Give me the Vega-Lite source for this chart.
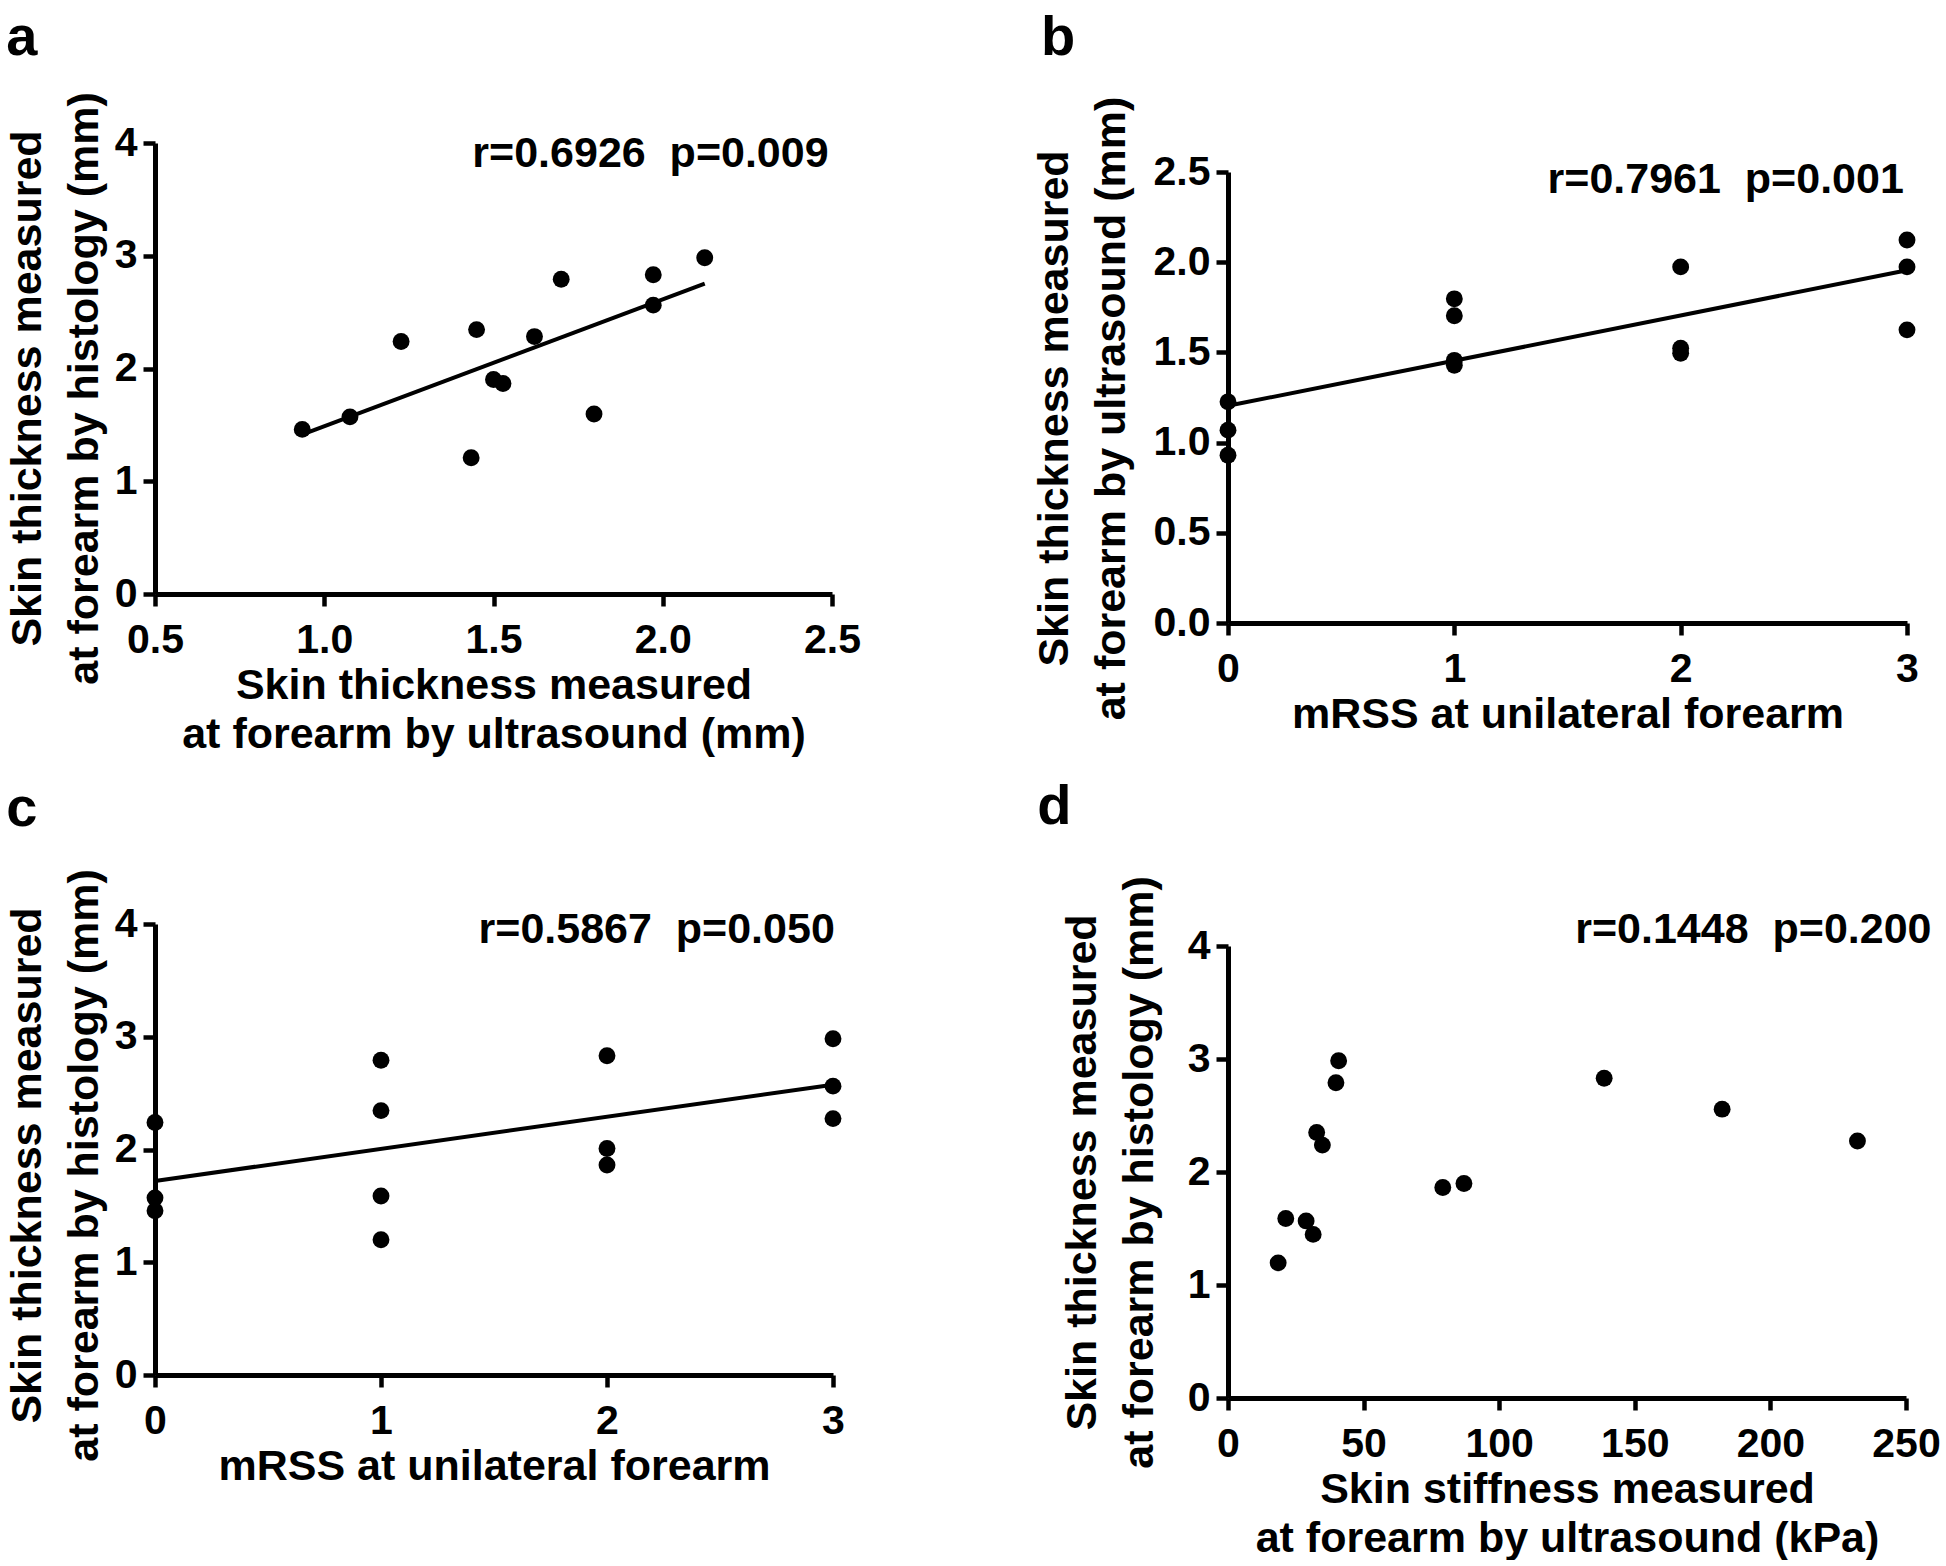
{
  "$schema": "https://vega.github.io/schema/vega-lite/v6.json",
  "background": "white",
  "padding": {"left": 6, "top": 9, "right": 5, "bottom": 0},
  "spacing": 22,
  "vconcat": [
    {
      "concat": [
        {
          "title": {"text": "a", "offset": 25},
          "width": 677,
          "height": 451,
          "encoding": {
            "x": {"field": "x", "type": "quantitative", "scale": {"domain": [0.5, 2.5], "nice": false, "zero": false},
                  "axis": {"values": [0.5, 1, 1.5, 2, 2.5], "format": ".1f", "title": ["Skin thickness measured", "at forearm by ultrasound (mm)"]}},
            "y": {"field": "y", "type": "quantitative", "scale": {"domain": [0, 4], "nice": false},
                  "axis": {"values": [0, 1, 2, 3, 4], "format": "d", "titleY": 245, "title": ["Skin thickness measured", "at forearm by histology (mm)"]}}
          },
          "layer": [
            {
              "data": {"values": [
                {"x": 0.935, "y": 1.46}, {"x": 1.076, "y": 1.571}, {"x": 1.227, "y": 2.239}, {"x": 1.434, "y": 1.208},
                {"x": 1.45, "y": 2.345}, {"x": 1.5, "y": 1.903}, {"x": 1.528, "y": 1.867}, {"x": 1.621, "y": 2.283},
                {"x": 1.7, "y": 2.792}, {"x": 1.797, "y": 1.597}, {"x": 1.972, "y": 2.832}, {"x": 1.972, "y": 2.562},
                {"x": 2.124, "y": 2.982}
              ]},
              "mark": {"type": "circle", "size": 285, "opacity": 1, "color": "black"}
            },
            {
              "data": {"values": [{"x": 0.944, "y": 1.425}, {"x": 2.124, "y": 2.752}]},
              "mark": {"type": "line", "color": "black", "strokeWidth": 4}
            },
            {
              "data": {"values": [{"x": 2.49, "y": 3.9, "label": "r=0.6926\u00a0\u00a0p=0.009"}]},
              "mark": {"type": "text", "align": "right", "baseline": "middle", "fontSize": 43, "fontWeight": "bold", "color": "black", "font": "Liberation Sans"},
              "encoding": {"text": {"field": "label"}}
            }
          ]
        },
        {
          "title": {"text": "b", "offset": 29, "dx": 8},
          "width": 679,
          "height": 480,
          "encoding": {
            "x": {"field": "x", "type": "quantitative", "scale": {"domain": [0, 3], "nice": false, "zero": false},
                  "axis": {"values": [0, 1, 2, 3], "format": "d", "title": "mRSS at unilateral forearm"}},
            "y": {"field": "y", "type": "quantitative", "scale": {"domain": [0, 2.5], "nice": false, "range": [480, 29]},
                  "axis": {"values": [0, 0.5, 1, 1.5, 2, 2.5], "format": ".1f", "titlePadding": 20, "titleY": 265, "title": ["Skin thickness measured", "at forearm by ultrasound (mm)"]}}
          },
          "layer": [
            {
              "data": {"values": [
                {"x": 0, "y": 1.226}, {"x": 0, "y": 1.069}, {"x": 0, "y": 0.93},
                {"x": 1, "y": 1.797}, {"x": 1, "y": 1.703}, {"x": 1, "y": 1.456}, {"x": 1, "y": 1.429},
                {"x": 2, "y": 1.974}, {"x": 2, "y": 1.523}, {"x": 2, "y": 1.495},
                {"x": 3, "y": 2.123}, {"x": 3, "y": 1.974}, {"x": 3, "y": 1.625}
              ]},
              "mark": {"type": "circle", "size": 285, "opacity": 1, "color": "black"}
            },
            {
              "data": {"values": [{"x": 0, "y": 1.204}, {"x": 3, "y": 1.955}]},
              "mark": {"type": "line", "color": "black", "strokeWidth": 4}
            },
            {
              "data": {"values": [{"x": 2.986, "y": 2.458, "label": "r=0.7961\u00a0\u00a0p=0.001"}]},
              "mark": {"type": "text", "align": "right", "baseline": "middle", "fontSize": 43, "fontWeight": "bold", "color": "black", "font": "Liberation Sans"},
              "encoding": {"text": {"field": "label"}}
            }
          ]
        }
      ],
      "columns": 2,
      "align": "none",
      "spacing": 172
    },
    {
      "concat": [
        {
          "title": {"text": "c", "offset": 31},
          "width": 678,
          "height": 451,
          "encoding": {
            "x": {"field": "x", "type": "quantitative", "scale": {"domain": [0, 3], "nice": false, "zero": false},
                  "axis": {"values": [0, 1, 2, 3], "format": "d", "title": "mRSS at unilateral forearm"}},
            "y": {"field": "y", "type": "quantitative", "scale": {"domain": [0, 4], "nice": false},
                  "axis": {"values": [0, 1, 2, 3, 4], "format": "d", "titleY": 241, "title": ["Skin thickness measured", "at forearm by histology (mm)"]}}
          },
          "layer": [
            {
              "data": {"values": [
                {"x": 0, "y": 2.239}, {"x": 0, "y": 1.571}, {"x": 0, "y": 1.456},
                {"x": 1, "y": 2.792}, {"x": 1, "y": 2.345}, {"x": 1, "y": 1.588}, {"x": 1, "y": 1.199},
                {"x": 2, "y": 2.832}, {"x": 2, "y": 2.009}, {"x": 2, "y": 1.863},
                {"x": 3, "y": 2.982}, {"x": 3, "y": 2.562}, {"x": 3, "y": 2.274}
              ]},
              "mark": {"type": "circle", "size": 285, "opacity": 1, "color": "black"}
            },
            {
              "data": {"values": [{"x": 0, "y": 1.721}, {"x": 3, "y": 2.575}]},
              "mark": {"type": "line", "color": "black", "strokeWidth": 4}
            },
            {
              "data": {"values": [{"x": 3.008, "y": 3.947, "label": "r=0.5867\u00a0\u00a0p=0.050"}]},
              "mark": {"type": "text", "align": "right", "baseline": "middle", "fontSize": 43, "fontWeight": "bold", "color": "black", "font": "Liberation Sans"},
              "encoding": {"text": {"field": "label"}}
            }
          ]
        },
        {
          "title": {"text": "d", "offset": 40, "dx": -24},
          "width": 678,
          "height": 474,
          "encoding": {
            "x": {"field": "x", "type": "quantitative", "scale": {"domain": [0, 250], "nice": false, "zero": false},
                  "axis": {"values": [0, 50, 100, 150, 200, 250], "format": "d", "title": ["Skin stiffness measured", "at forearm by ultrasound (kPa)"]}},
            "y": {"field": "y", "type": "quantitative", "scale": {"domain": [0, 4], "nice": false, "range": [474, 22]},
                  "axis": {"values": [0, 1, 2, 3, 4], "format": "d", "titlePadding": 26, "title": ["Skin thickness measured", "at forearm by histology (mm)"]}}
          },
          "layer": [
            {
              "data": {"values": [
                {"x": 18.5, "y": 1.196}, {"x": 21.3, "y": 1.589}, {"x": 28.8, "y": 1.567}, {"x": 31.4, "y": 1.448},
                {"x": 32.7, "y": 2.349}, {"x": 34.8, "y": 2.238}, {"x": 39.8, "y": 2.79}, {"x": 40.8, "y": 2.985},
                {"x": 79.2, "y": 1.863}, {"x": 87.0, "y": 1.898}, {"x": 138.7, "y": 2.83}, {"x": 182.2, "y": 2.556},
                {"x": 232.1, "y": 2.274}
              ]},
              "mark": {"type": "circle", "size": 285, "opacity": 1, "color": "black"}
            },
            {
              "data": {"values": [{"x": 259.4, "y": 4.14, "label": "r=0.1448\u00a0\u00a0p=0.200"}]},
              "mark": {"type": "text", "align": "right", "baseline": "middle", "fontSize": 43, "fontWeight": "bold", "color": "black", "font": "Liberation Sans"},
              "encoding": {"text": {"field": "label"}}
            }
          ]
        }
      ],
      "columns": 2,
      "align": "none",
      "spacing": 192
    }
  ],
  "config": {
    "font": "Liberation Sans",
    "view": {"stroke": null},
    "axis": {
      "domainColor": "black", "domainWidth": 5, "tickColor": "black", "tickWidth": 4.5, "tickSize": 12,
      "labelFont": "Liberation Sans", "labelFontSize": 41, "labelFontWeight": "bold", "labelColor": "black",
      "titleFont": "Liberation Sans", "titleFontSize": 43, "titleFontWeight": "bold", "titleColor": "black",
      "grid": false, "labelFlush": false, "labelOverlap": false
    },
    "axisX": {"labelPadding": 14, "titlePadding": 4, "titleLineHeight": 49},
    "axisY": {"labelPadding": 6, "titlePadding": 8, "titleLineHeight": 57},
    "title": {"fontSize": 56, "fontWeight": "bold", "anchor": "start", "frame": "bounds", "color": "black", "font": "Liberation Sans"}
  }
}
